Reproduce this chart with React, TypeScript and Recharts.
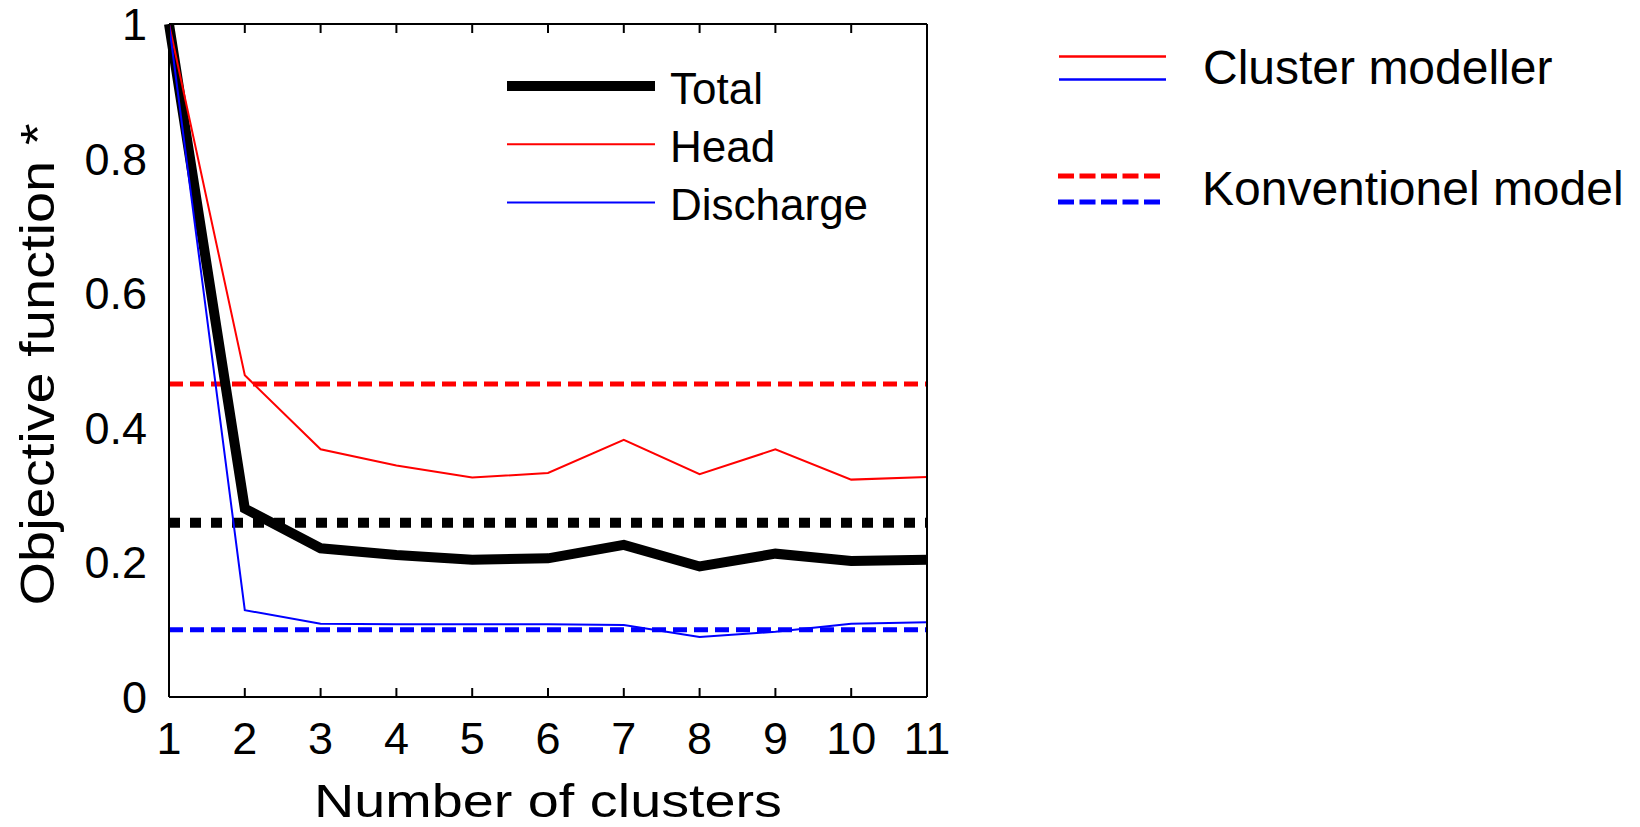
import { LineChart, Line, XAxis, YAxis, ReferenceLine, Legend } from "recharts";

// number of clusters on the x axis
const clusters = [1, 2, 3, 4, 5, 6, 7, 8, 9, 10, 11];

// objective function (normalised) per cluster count
const totalValues = [1.0, 0.28, 0.221, 0.211, 0.204, 0.206, 0.226, 0.194, 0.213, 0.202, 0.204];
const headValues = [1.0, 0.478, 0.368, 0.344, 0.326, 0.333, 0.382, 0.331, 0.368, 0.323, 0.327];
const dischargeValues = [1.0, 0.129, 0.109, 0.108, 0.108, 0.108, 0.107, 0.089, 0.097, 0.109, 0.111];

// conventional model levels (dashed)
const conventionalTotal = 0.259;
const conventionalHead = 0.465;
const conventionalDischarge = 0.1;

const yTicks = [0, 0.2, 0.4, 0.6, 0.8, 1];
const seriesNames = ["Total", "Head", "Discharge"];
const groupLabels = ["Cluster modeller", "Konventionel model"];

const data = clusters.map((n, i) => ({
  n,
  total: totalValues[i],
  head: headValues[i],
  discharge: dischargeValues[i],
}));

const FONT = "'Liberation Sans', Arial, sans-serif";
const frame = { stroke: "#000", strokeWidth: 2 };
const NoTick = () => null;

const lineWidths: Record<string, number> = { Total: 10, Head: 2, Discharge: 2 };

function XLabel(props: any) {
  const vb = props.viewBox || {};
  return (
    <text
      x={vb.x + vb.width / 2}
      y={vb.y + 120}
      textAnchor="middle"
      fontSize={46}
      fontFamily={FONT}
      fill="#000"
      textLength={468}
      lengthAdjust="spacingAndGlyphs"
    >
      Number of clusters
    </text>
  );
}

function YLabel(props: any) {
  const vb = props.viewBox || {};
  const cy = vb.y + vb.height / 2 + 4;
  return (
    <text
      x={54}
      y={cy}
      transform={`rotate(-90 54 ${cy})`}
      textAnchor="middle"
      fontSize={48}
      fontFamily={FONT}
      fill="#000"
      textLength={482}
      lengthAdjust="spacingAndGlyphs"
    >
      Objective function *
    </text>
  );
}

function LegendBox(props: any) {
  const payload = [...(props.payload || [])].sort(
    (a: any, b: any) => seriesNames.indexOf(a.value) - seriesNames.indexOf(b.value)
  );
  return (
    <svg width={1640} height={827} style={{ display: "block" }}>
      {payload.map((entry: any, i: number) => {
        const y = 86 + i * 58.3;
        return (
          <g key={entry.value}>
            <line x1={507} x2={655} y1={y} y2={y} stroke={entry.color} strokeWidth={lineWidths[entry.value] ?? 2} />
            <text x={670} y={y + 17.5} fontSize={44} fontFamily={FONT} fill="#000">
              {entry.value}
            </text>
          </g>
        );
      })}
      <line x1={1059} x2={1166} y1={56.5} y2={56.5} stroke="#ff0000" strokeWidth={2.5} />
      <line x1={1059} x2={1166} y1={79.5} y2={79.5} stroke="#0000ff" strokeWidth={2.5} />
      <text x={1203} y={84} fontSize={48} fontFamily={FONT} fill="#000">
        {groupLabels[0]}
      </text>
      <line x1={1058} x2={1160} y1={176} y2={176} stroke="#ff0000" strokeWidth={5} strokeDasharray="16 5.5" />
      <line x1={1058} x2={1160} y1={202} y2={202} stroke="#0000ff" strokeWidth={5} strokeDasharray="16 5.5" />
      <text x={1202} y={205} fontSize={48} fontFamily={FONT} fill="#000">
        {groupLabels[1]}
      </text>
    </svg>
  );
}

export default function App() {
  return (
    <div style={{ position: "absolute", left: 0, top: 0, width: 1640, height: 827, background: "#fff", fontFamily: FONT }}>
      <LineChart width={1640} height={827} data={data} margin={{ top: 24, right: 713, bottom: 0, left: 0 }}>
        <XAxis
          dataKey="n"
          type="number"
          domain={[1, 11]}
          ticks={clusters}
          interval={0}
          height={130}
          tickLine={false}
          tickSize={0}
          tickMargin={25}
          axisLine={frame}
          tick={{ fill: "#000", fontSize: 45, fontFamily: FONT }}
          label={XLabel}
        />
        <XAxis xAxisId="bottomTicks" dataKey="n" type="number" domain={[1, 11]} ticks={clusters} interval={0} mirror orientation="bottom" axisLine={false} tickLine={frame} tickSize={9} tick={NoTick} />
        <XAxis xAxisId="topTicks" dataKey="n" type="number" domain={[1, 11]} ticks={clusters} interval={0} mirror orientation="top" axisLine={frame} tickLine={frame} tickSize={9} tick={NoTick} />
        <YAxis
          type="number"
          domain={[0, 1]}
          ticks={yTicks}
          interval={0}
          width={169}
          tickLine={false}
          tickSize={0}
          tickMargin={22}
          axisLine={frame}
          tick={{ fill: "#000", fontSize: 45, fontFamily: FONT }}
          label={YLabel}
        />
        <YAxis yAxisId="leftTicks" type="number" domain={[0, 1]} ticks={yTicks} interval={0} mirror orientation="left" axisLine={false} tickLine={frame} tickSize={9} tick={NoTick} />
        <YAxis yAxisId="rightTicks" type="number" domain={[0, 1]} ticks={yTicks} interval={0} mirror orientation="right" axisLine={frame} tickLine={frame} tickSize={9} tick={NoTick} />

        <ReferenceLine y={conventionalHead} stroke="#ff0000" strokeWidth={5} strokeDasharray="14 7" />
        <ReferenceLine y={conventionalTotal} stroke="#000" strokeWidth={10} strokeDasharray="11 10" />
        <ReferenceLine y={conventionalDischarge} stroke="#0000ff" strokeWidth={5} strokeDasharray="14 7" />

        <Line name="Total" dataKey="total" type="linear" stroke="#000" strokeWidth={10} dot={false} isAnimationActive={false} />
        <Line name="Head" dataKey="head" type="linear" stroke="#ff0000" strokeWidth={2} dot={false} isAnimationActive={false} />
        <Line name="Discharge" dataKey="discharge" type="linear" stroke="#0000ff" strokeWidth={2} dot={false} isAnimationActive={false} />

        <Legend
          layout="horizontal"
          verticalAlign="middle"
          align="center"
          content={LegendBox}
          wrapperStyle={{ left: 0, top: 0, width: 1640, height: 827, pointerEvents: "none" }}
        />
      </LineChart>
    </div>
  );
}
